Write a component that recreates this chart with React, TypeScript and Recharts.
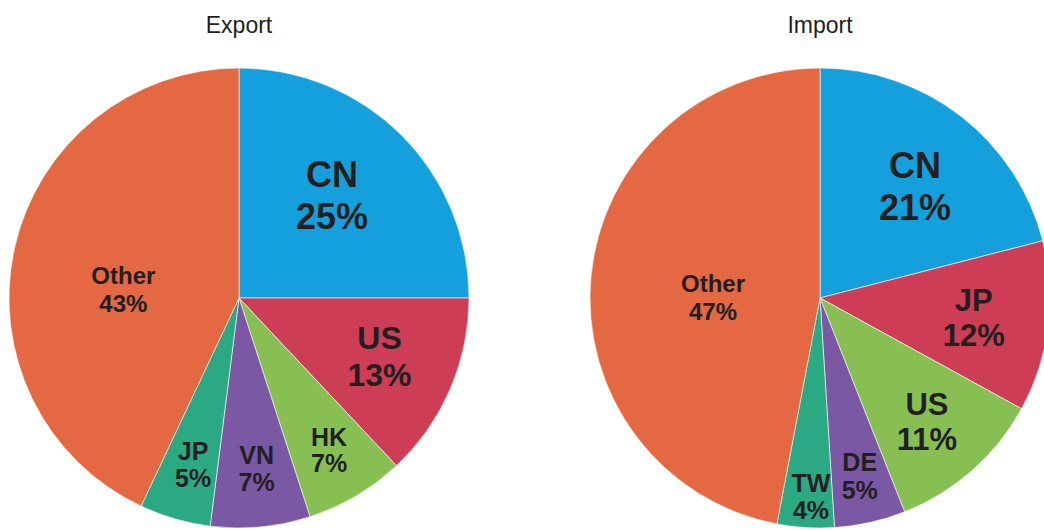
import { PieChart, Pie, Cell } from 'recharts'

// trade partner shares, clockwise from 12 o'clock
const exportPartners = ['CN', 'US', 'HK', 'VN', 'JP', 'Other']
const exportShares = [25, 13, 7, 7, 5, 43]
const importPartners = ['CN', 'JP', 'US', 'DE', 'TW', 'Other']
const importShares = [21, 12, 11, 5, 4, 47]

const sliceColors = ['#13A0DC', '#CE3D56', '#87BF52', '#7B58A4', '#2AA983', '#E46841']

// label placement: distance from centre, angle tweak, font size, line pitch
const exportLabelStyle = [
  { r: 139, da: 3, size: 36, lh: 42 },
  { r: 152, da: 1, size: 32, lh: 37 },
  { r: 177, da: 0, size: 25, lh: 26 },
  { r: 171, da: 0.5, size: 25, lh: 27 },
  { r: 173, da: 0.8, size: 25, lh: 27 },
  { r: 116, da: 8.2, size: 24, lh: 28 },
]
const importLabelStyle = [
  { r: 147, da: -2.5, size: 36, lh: 42 },
  { r: 155, da: 0, size: 31, lh: 35 },
  { r: 163, da: -0.4, size: 31, lh: 35 },
  { r: 182, da: 0, size: 25, lh: 28 },
  { r: 199, da: 1, size: 25, lh: 27 },
  { r: 107, da: 5, size: 24, lh: 28 },
]

const RAD = Math.PI / 180
const FONT = '"Liberation Sans", Arial, sans-serif'

function makeLabel(styles: typeof exportLabelStyle) {
  return (props: any) => {
    const { cx, cy, midAngle, index, name, value } = props
    const s = styles[index]
    const a = (midAngle + s.da) * RAD
    const x = cx + s.r * Math.cos(a)
    const y = cy - s.r * Math.sin(a)
    const base = y - (s.lh - 0.716 * s.size) / 2
    return (
      <text x={x} y={base} textAnchor="middle" fill="#231F20"
        style={{ fontFamily: FONT, fontWeight: 700, fontSize: s.size }}>
        <tspan x={x} y={base}>{name}</tspan>
        <tspan x={x} y={base + s.lh}>{value}%</tspan>
      </text>
    )
  }
}

const exportData = exportPartners.map((name, i) => ({ name, value: exportShares[i] }))
const importData = importPartners.map((name, i) => ({ name, value: importShares[i] }))

const titleStyle = {
  position: 'absolute' as const, top: 12, width: 200, textAlign: 'center' as const,
  fontFamily: FONT, fontSize: 23, color: '#231F20',
}

export default function App() {
  return (
    <div style={{ position: 'absolute', left: 0, top: 0, width: 1044, height: 530, background: '#fff', overflow: 'hidden' }}>
      <div style={{ ...titleStyle, left: 139 }}>Export</div>
      <div style={{ ...titleStyle, left: 720 }}>Import</div>
      <PieChart width={1044} height={530} margin={{ top: 0, right: 0, bottom: 0, left: 0 }}>
        <Pie data={exportData} dataKey="value" nameKey="name" cx={239} cy={298} outerRadius={230}
          startAngle={90} endAngle={-270} stroke="#ffffff" strokeWidth={0.6}
          label={makeLabel(exportLabelStyle)} labelLine={false} isAnimationActive={false}>
          {exportData.map((d, i) => <Cell key={d.name} fill={sliceColors[i]} />)}
        </Pie>
        <Pie data={importData} dataKey="value" nameKey="name" cx={820} cy={298} outerRadius={230}
          startAngle={90} endAngle={-270} stroke="#ffffff" strokeWidth={0.6}
          label={makeLabel(importLabelStyle)} labelLine={false} isAnimationActive={false}>
          {importData.map((d, i) => <Cell key={d.name} fill={sliceColors[i]} />)}
        </Pie>
      </PieChart>
    </div>
  )
}
